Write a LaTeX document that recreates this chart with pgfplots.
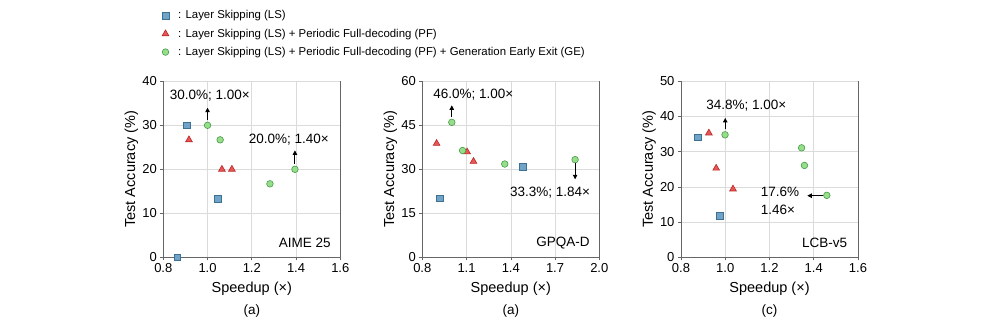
\documentclass[border=0pt]{standalone}
\usepackage{pgfplots}
\pgfplotsset{compat=1.18}
\usepackage{fontspec}
\setmainfont{Liberation Sans}
\usetikzlibrary{arrows.meta}

\definecolor{lsfill}{RGB}{112,163,199}
\definecolor{lsdraw}{RGB}{62,112,145}
\definecolor{pffill}{RGB}{232,85,85}
\definecolor{pfdraw}{RGB}{185,40,40}
\definecolor{gefill}{RGB}{150,222,140}
\definecolor{gedraw}{RGB}{70,155,70}

\pgfplotsset{
  panel/.style={
    scale only axis, width=177pt, height=176pt,
    clip=false,
    xtick pos=bottom, ytick pos=left,
    tick align=outside, major tick length=3pt,
    tick style={black!60, line width=0.6pt},
    axis line style={draw=none},
    grid=major, major grid style={black!14, line width=0.6pt},
    ticklabel style={font=\fontsize{13}{15}\selectfont},
    /pgf/number format/assume math mode=true,
    xticklabel style={/pgf/number format/.cd, fixed, fixed zerofill, precision=1},
    yticklabel style={/pgf/number format/.cd, fixed, precision=0},
    xlabel={Speedup (×)}, ylabel={Test Accuracy (\%)},
    label style={font=\fontsize{14.5}{16}\selectfont},
    xlabel style={at={(axis description cs:0.5,-0.176)}, anchor=center},
    ylabel style={at={(axis description cs:-0.18,0.5)}, anchor=center},
  },
  ls/.style={only marks, mark=square*, mark size=3.4pt,
    mark options={fill=lsfill, draw=lsdraw, line width=0.6pt}},
  pf/.style={only marks, mark=triangle*, mark size=3.9pt,
    mark options={fill=pffill, draw=pfdraw, line width=0.6pt}},
  ge/.style={only marks, mark=*, mark size=3.3pt,
    mark options={fill=gefill, draw=gedraw, line width=0.6pt}},
}
\tikzset{
  arr/.style={-{Triangle[length=4.5pt,width=4.5pt]}, line width=0.9pt, black},
  ann/.style={font=\fontsize{13.5}{18.3}\selectfont, inner sep=0pt},
}

\newcommand{\frameaxis}{%
  \draw[black!60, line width=0.7pt] (rel axis cs:0,1) -- (rel axis cs:0,0) -- (rel axis cs:1,0) -- (rel axis cs:1,1);}

\begin{document}
\begin{tikzpicture}
\path[use as bounding box] (0,0) rectangle (996pt,329pt);

% AIME 25
\begin{axis}[panel, at={(163.3pt,71.7pt)}, anchor=south west,
  xmin=0.8, xmax=1.6, xtick={0.8,1.0,1.2,1.4,1.6},
  ymin=0, ymax=40, ytick={0,10,20,30,40},
  legend style={at={(axis description cs:-0.035,1.425)}, anchor=north west,
    draw=none, fill=none, font=\fontsize{11.4}{13}\selectfont, row sep=4.5pt},
  legend cell align=left,
  legend image code/.code={\draw[mark repeat=2,mark phase=2] plot coordinates {(0pt,0pt)(5pt,0pt)(10pt,0pt)}; \path (0pt,0pt) (15.5pt,0pt);}]
\addplot[ls] coordinates {(0.863,0) (0.906,30.0) (1.046,13.3)};
\addlegendentry{: Layer Skipping (LS)}
\addplot[pf] coordinates {(0.916,26.7) (1.065,20.0) (1.110,20.0)};
\addlegendentry{: Layer Skipping (LS) + Periodic Full-decoding (PF)}
\addplot[ge] coordinates {(1.000,30.0) (1.057,26.7) (1.282,16.7) (1.395,20.0)};
\addlegendentry{: Layer Skipping (LS) + Periodic Full-decoding (PF) + Generation Early Exit (GE)}
\frameaxis
\draw[arr] (axis cs:1.0,31.2) -- (axis cs:1.0,34.0);
\node[ann] at (axis cs:1.01,36.7) {30.0\%; 1.00×};
\draw[arr] (axis cs:1.395,21.2) -- (axis cs:1.395,24.3);
\node[ann] at (axis cs:1.367,26.8) {20.0\%; 1.40×};
\node[ann, anchor=east] at (rel axis cs:0.947,0.081) {AIME 25};
\node[ann] at (rel axis cs:0.5,0) [yshift=-53.4pt] {(a)};
\end{axis}

% GPQA-D
\begin{axis}[panel, at={(422.3pt,71.7pt)}, anchor=south west,
  xmin=0.8, xmax=2.0, xtick={0.8,1.1,1.4,1.7,2.0},
  ymin=0, ymax=60, ytick={0,15,30,45,60}]
\addplot[ls] coordinates {(0.920,20.1) (1.482,30.9)};
\addplot[pf] coordinates {(0.897,38.8) (1.104,35.9) (1.147,32.7)};
\addplot[ge] coordinates {(1.000,46.0) (1.073,36.4) (1.359,31.8) (1.836,33.3)};
\frameaxis
\draw[arr] (axis cs:1.0,47.9) -- (axis cs:1.0,51.8);
\node[ann] at (axis cs:1.146,55.6) {46.0\%; 1.00×};
\draw[arr] (axis cs:1.836,32.0) -- (axis cs:1.836,26.6);
\node[ann] at (axis cs:1.666,22.0) {33.3\%; 1.84×};
\node[ann, anchor=east] at (rel axis cs:0.947,0.081) {GPQA-D};
\node[ann] at (rel axis cs:0.5,0) [yshift=-53.4pt] {(a)};
\end{axis}

% LCB-v5
\begin{axis}[panel, at={(681pt,71.7pt)}, anchor=south west,
  xmin=0.8, xmax=1.6, xtick={0.8,1.0,1.2,1.4,1.6},
  ymin=0, ymax=50, ytick={0,10,20,30,40,50}]
\addplot[ls] coordinates {(0.877,34.1) (0.974,11.8)};
\addplot[pf] coordinates {(0.926,35.3) (0.959,25.3) (1.035,19.4)};
\addplot[ge] coordinates {(0.999,34.8) (1.345,31.1) (1.358,26.1) (1.459,17.6)};
\frameaxis
\draw[arr] (axis cs:1.0,36.4) -- (axis cs:1.0,39.6);
\node[ann] at (axis cs:1.095,43.0) {34.8\%; 1.00×};
\draw[arr] (axis cs:1.440,17.5) -- (axis cs:1.371,17.5);
\node[ann, anchor=west, align=left] at (axis cs:1.160,16.0) {17.6\%\\1.46×};
\node[ann, anchor=east] at (rel axis cs:0.94,0.081) {LCB-v5};
\node[ann] at (rel axis cs:0.5,0) [yshift=-53.4pt] {(c)};
\end{axis}
\end{tikzpicture}
\end{document}
